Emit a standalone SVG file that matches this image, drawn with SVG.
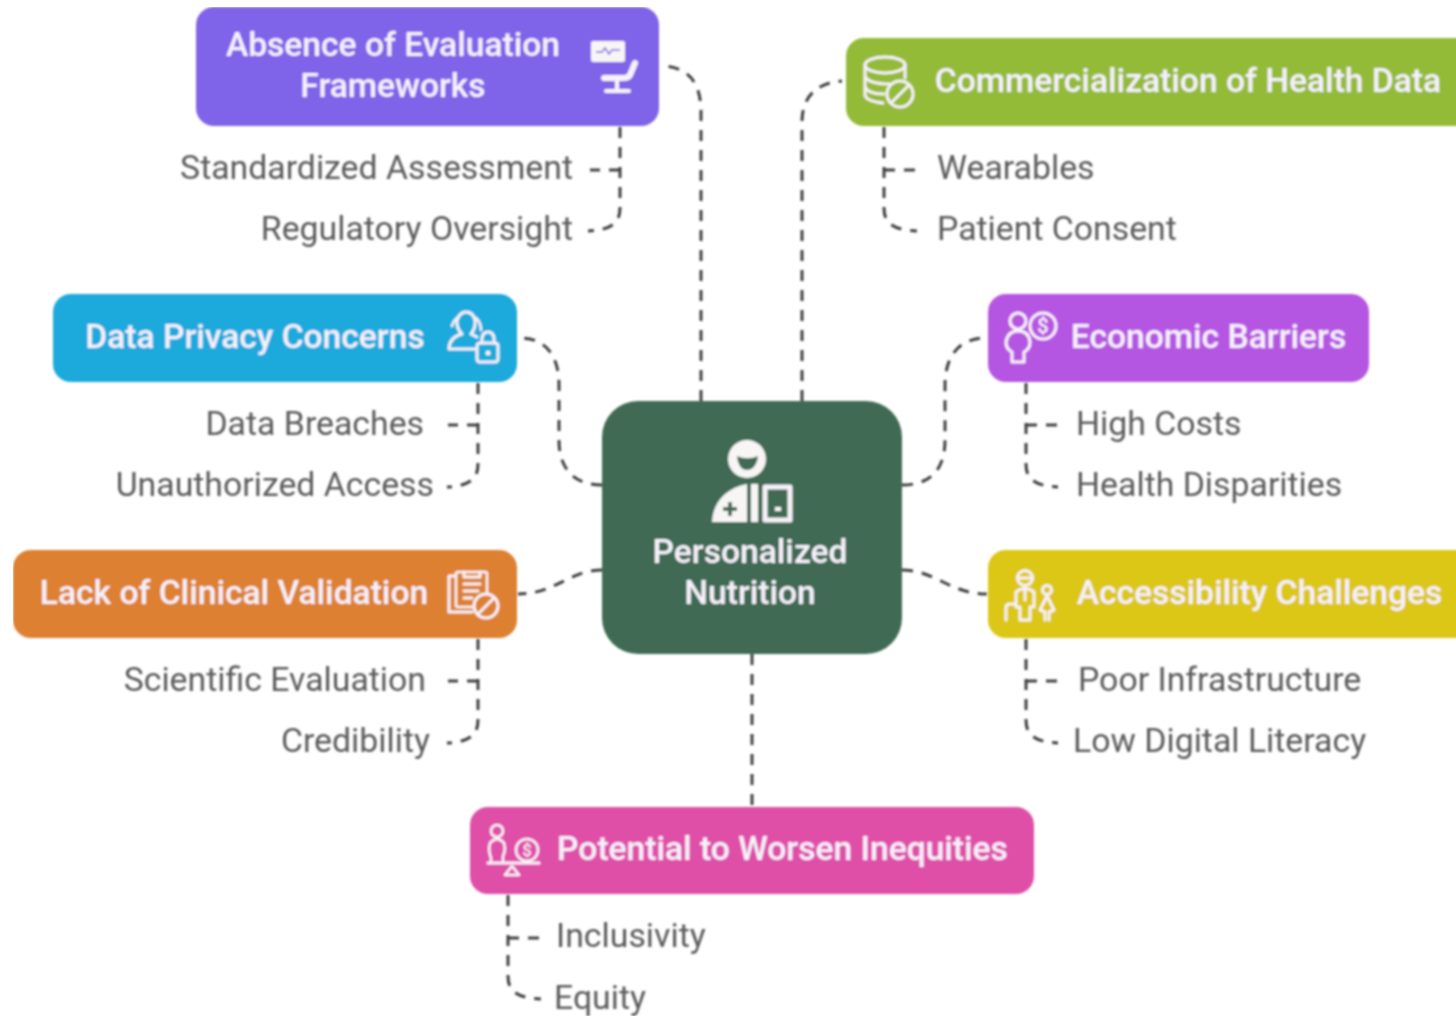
<svg xmlns="http://www.w3.org/2000/svg" width="1456" height="1016" viewBox="0 0 1456 1016">
<defs>
<style>
text{font-family:Roboto,"Liberation Sans",sans-serif}
.t{fill:#f6f1fb;font-size:33.6px;font-weight:500;text-anchor:middle}
.s{fill:#5c5c5c;font-size:33.8px}
.e{text-anchor:end}
.c{fill:none;stroke:#404040;stroke-width:3;stroke-dasharray:11 9}
.i{fill:none;stroke:#f8f2f8;stroke-width:3;stroke-linecap:round;stroke-linejoin:round}
.f{fill:#f8f5f5;stroke:none}
</style>
<filter id="b" x="0" y="0" width="100%" height="100%"><feGaussianBlur stdDeviation="0.8"/></filter>
</defs>
<rect width="1456" height="1016" fill="#ffffff"/>
<g filter="url(#b)">
<g id="connectors">
<path class="c" d="M701 401V112C701 82 688 67 662 66"/>
<path class="c" d="M802 401V122C802 98 815 83 842 81"/>
<path class="c" d="M602 485C575 485 559 470 559 440V385C559 355 545 338 520 338"/>
<path class="c" d="M902 485C930 485 945 470 945 440V385C945 355 960 338 986 338"/>
<path class="c" d="M602 570C570 570 555 594 518 594"/>
<path class="c" d="M902 570C935 570 950 594 987 594"/>
<path class="c" d="M752 654V806"/>
<path class="c" d="M620 127V208C620 224 610 230 588 231"/>
<path class="c" d="M620 170H590"/>
<path class="c" d="M884 127V208C884 224 894 230 917 231"/>
<path class="c" d="M884 170H915"/>
<path class="c" d="M478 383V464C478 480 468 486 447 487"/>
<path class="c" d="M478 425H448"/>
<path class="c" d="M478 639V720C478 736 468 742 447 743"/>
<path class="c" d="M478 681H448"/>
<path class="c" d="M1026 383V464C1026 480 1036 486 1058 487"/>
<path class="c" d="M1026 425H1057"/>
<path class="c" d="M1026 639V720C1026 736 1036 742 1058 743"/>
<path class="c" d="M1026 681H1057"/>
<path class="c" d="M508 895V976C508 992 518 998 541 999"/>
<path class="c" d="M508 938H540"/>
</g>

<g id="node-center">
<rect x="602" y="401" width="300" height="253" rx="36" fill="#3f6a53"/>
<circle cx="747" cy="459" r="19" class="f"/>
<path d="M737 456C744 459 751 459 758 456C757 466 752 470 747 470C742 470 738 466 737 456Z" fill="#3f6a53"/>
<path class="f" d="M712 522C713 502 726 488 747 484V522Z"/>
<path d="M723 509H737M730 502V516" style="fill:none;stroke:#3f6a53;stroke-width:4"/>
<rect x="751" y="484" width="7" height="38" class="f"/>
<rect x="765" y="487" width="25" height="33" class="i" style="stroke-width:5"/>
<rect x="775" y="507" width="6" height="4" class="f"/>
<text class="t" x="750" y="563">Personalized</text>
<text class="t" x="750" y="604">Nutrition</text>
</g>

<g id="node-absence">
<rect x="196" y="7" width="463" height="119" rx="18" fill="#7f63e8"/>
<text class="t" x="393" y="56">Absence of Evaluation</text>
<text class="t" x="393" y="97">Frameworks</text>
<rect x="591" y="41" width="34" height="21" rx="2" class="f"/>
<path d="M596 52H602L605 48L609 54L612 50H620" style="fill:none;stroke:#7f63e8;stroke-width:1.5"/>
<path class="i" style="stroke-width:6" d="M635 63L630 75Q628 78 624 78H604"/>
<path class="i" style="stroke-width:4" d="M617 80V90M606 91H629"/>
<text class="s e" x="573" y="179">Standardized Assessment</text>
<text class="s e" x="573" y="240">Regulatory Oversight</text>
</g>

<g id="node-commercialization">
<rect x="846" y="38" width="640" height="88" rx="18" fill="#93bb37"/>
<text class="t" x="1188" y="92">Commercialization of Health Data</text>
<ellipse cx="885" cy="65" rx="20" ry="8" class="i"/>
<path class="i" d="M865 65V95Q866 101 883 103M905 65V78M865 76Q868 84 890 84M865 87Q868 94 884 94"/>
<circle cx="900" cy="94" r="13" class="i"/>
<path class="i" d="M891 103L909 85"/>
<text class="s" x="937" y="179">Wearables</text>
<text class="s" x="937" y="240">Patient Consent</text>
</g>

<g id="node-privacy">
<rect x="53" y="294" width="464" height="88" rx="18" fill="#1ea9dc"/>
<text class="t" x="255" y="348">Data Privacy Concerns</text>
<path class="i" d="M449 348Q450 337 462 334Q456 328 457 320Q460 312 466 312Q473 312 475 320Q476 328 471 334L477 337M449 349H476"/>
<path class="i" style="stroke-width:2.5" d="M452 326Q454 320 457 318M476 318Q481 323 481 330"/>
<rect x="477" y="343" width="21" height="19" rx="3" class="i"/>
<path class="i" d="M482 343V338Q483 332 488 332Q493 332 494 338V343"/>
<circle cx="488" cy="353" r="2.5" class="f"/>
<text class="s e" x="424" y="435">Data Breaches</text>
<text class="s e" x="434" y="496">Unauthorized Access</text>
</g>

<g id="node-economic">
<rect x="988" y="294" width="381" height="88" rx="18" fill="#b556e2"/>
<text class="t" x="1208.500" y="348">Economic Barriers</text>
<circle cx="1018" cy="321" r="8" class="i"/>
<path class="i" d="M1012 352Q1006 349 1006 342Q1008 331 1018 331Q1029 331 1030 342Q1030 349 1024 352V362H1012Z"/>
<circle cx="1043" cy="326" r="13" class="i"/>
<text x="1043" y="333" style="font-size:20px;font-weight:500;fill:#f8f2f8;text-anchor:middle">$</text>
<text class="s" x="1076" y="435">High Costs</text>
<text class="s" x="1076" y="496">Health Disparities</text>
</g>

<g id="node-lack">
<rect x="13" y="550" width="504" height="88" rx="18" fill="#dd8030"/>
<text class="t" x="234" y="604">Lack of Clinical Validation</text>
<path class="i" d="M456 576H449V612H472"/>
<rect x="456" y="572" width="31" height="35" rx="2" class="i" style="stroke-width:2.5"/>
<path class="i" d="M464 572V577H480V572M464 584H480M464 591H478M464 598H472"/>
<circle cx="486" cy="606" r="12" class="i" style="fill:#dd8030"/>
<path class="i" d="M478 614L494 598"/>
<text class="s e" x="426" y="691">Scientific Evaluation</text>
<text class="s e" x="430" y="752">Credibility</text>
</g>

<g id="node-accessibility">
<rect x="988" y="550" width="520" height="88" rx="18" fill="#dcc613"/>
<text class="t" x="1259.500" y="604">Accessibility Challenges</text>
<circle cx="1025" cy="578" r="7.5" class="i"/>
<path class="i" d="M1019 578H1032M1016 592Q1025 585 1034 592V607H1030V620H1020V607H1016ZM1025 588V600M1006 620V608Q1006 604 1010 604H1015"/>
<circle cx="1047" cy="590" r="4.5" class="i"/>
<path class="i" d="M1047 596L1040 610L1045 612V620M1047 596L1054 610L1049 612V620"/>
<text class="s" x="1078" y="691">Poor Infrastructure</text>
<text class="s" x="1073" y="752">Low Digital Literacy</text>
</g>

<g id="node-potential">
<rect x="470" y="807" width="564" height="87" rx="18" fill="#df50a8"/>
<text class="t" x="782.500" y="860">Potential to Worsen Inequities</text>
<circle cx="497" cy="831" r="6" class="i" style="stroke-width:2.500"/>
<path class="i" style="stroke-width:2.500" d="M491 862V858Q488 850 490 843Q497 835 504 843Q506 850 503 856V862"/>
<path class="i" d="M488 863H539"/>
<circle cx="527" cy="850" r="11" class="i" style="stroke-width:2.500"/>
<text x="527" y="856" style="font-size:16px;font-weight:500;fill:#f8f2f8;text-anchor:middle">$</text>
<path class="i" style="stroke-width:2.500" d="M512 866L505 875H519Z"/>
<text class="s" x="556" y="947">Inclusivity</text>
<text class="s" x="554" y="1009">Equity</text>
</g>
</g>
</svg>
